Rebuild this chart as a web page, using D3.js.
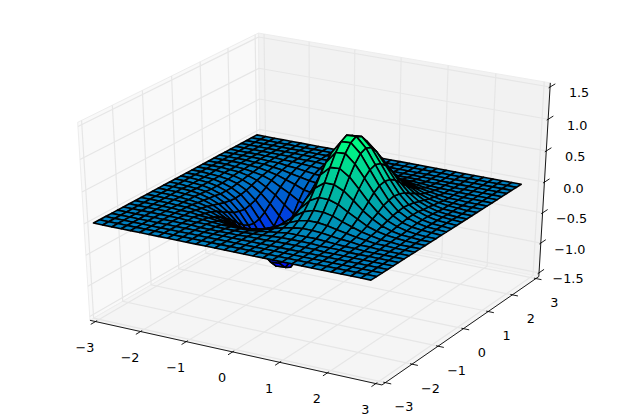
<!DOCTYPE html>
<html>
<head>
<meta charset="utf-8">
<script src="https://cdn.jsdelivr.net/npm/d3@7"></script>
<style>html,body{margin:0;padding:0;background:#fff}svg{display:block}text{font-family:"DejaVu Sans",sans-serif;font-size:12.8px;fill:#000}</style>
</head>
<body>
<svg id="c" width="619" height="419"></svg>
<script>
const xValues = [-3,-2.8,-2.6,-2.4,-2.2,-2,-1.8,-1.6,-1.4,-1.2,-1,-0.8,-0.6,-0.4,-0.2,0,0.2,0.4,0.6,0.8,1,1.2,1.4,1.6,1.8,2,2.2,2.4,2.6,2.8];
const yValues = xValues.slice();
const xTicks = [-3,-2,-1,0,1,2,3];
const yTicks = [-3,-2,-1,0,1,2,3];
const zTicks = [-1.5,-1,-0.5,0,0.5,1,1.5];
// one row per y value, one column per x value
const zRows = [
[0,0,0,0,0,0,0,0,0,0,0,0,0,0,0,0,0,0,0,0,0,0,0,0,0,0,0,0,0,0],
[0,0,0,0,0,0,0,0,0,0,0,0,0,0,0,0,0,0,0,0,0,0,0,0,0,0,0,0,0,0],
[0,0,0,0,0,0,0,0,0,0,0,0,0,0,0,0,0,0,0,0,0,0,0,0,0,0,0,0,0,0],
[0,0,0,0,0,0,0,0,0,0,0,0,0,0,0,0,0,0,0,0,0,0,0,0,0,0,0,0,0,0],
[0,0,0,0,0,0,0,0,0,-0.01,-0.01,-0.01,-0.01,-0.01,0,0,0,0.01,0.01,0.01,0.01,0.01,0,0,0,0,0,0,0,0],
[0,0,0,0,0,0,0,-0.01,-0.01,-0.01,-0.02,-0.02,-0.02,-0.02,-0.01,0,0.01,0.02,0.02,0.02,0.02,0.01,0.01,0.01,0,0,0,0,0,0],
[0,0,0,0,0,0,-0.01,-0.01,-0.02,-0.03,-0.04,-0.04,-0.04,-0.04,-0.02,0,0.02,0.04,0.04,0.04,0.04,0.03,0.02,0.01,0.01,0,0,0,0,0],
[0,0,0,0,0,-0.01,-0.01,-0.03,-0.04,-0.06,-0.08,-0.09,-0.09,-0.07,-0.04,0,0.04,0.07,0.09,0.09,0.08,0.06,0.04,0.03,0.01,0.01,0,0,0,0],
[0,0,0,0,-0.01,-0.01,-0.03,-0.05,-0.08,-0.11,-0.14,-0.16,-0.16,-0.13,-0.07,0,0.07,0.13,0.16,0.16,0.14,0.11,0.08,0.05,0.03,0.01,0.01,0,0,0],
[0,0,0,0,-0.01,-0.02,-0.05,-0.08,-0.13,-0.18,-0.24,-0.27,-0.27,-0.22,-0.12,0,0.12,0.22,0.27,0.27,0.24,0.18,0.13,0.08,0.05,0.02,0.01,0,0,0],
[0,0,0,-0.01,-0.02,-0.04,-0.07,-0.12,-0.20,-0.28,-0.37,-0.42,-0.42,-0.34,-0.19,0,0.19,0.34,0.42,0.42,0.37,0.28,0.20,0.12,0.07,0.04,0.02,0.01,0,0],
[0,0,0,-0.01,-0.02,-0.05,-0.10,-0.18,-0.28,-0.41,-0.53,-0.60,-0.60,-0.49,-0.28,0,0.28,0.49,0.60,0.60,0.53,0.41,0.28,0.18,0.10,0.05,0.02,0.01,0,0],
[0,0,0,-0.01,-0.03,-0.07,-0.13,-0.23,-0.37,-0.54,-0.70,-0.80,-0.79,-0.65,-0.36,0,0.36,0.65,0.79,0.80,0.70,0.54,0.37,0.23,0.13,0.07,0.03,0.01,0,0],
[0,0,-0.01,-0.02,-0.04,-0.08,-0.16,-0.29,-0.46,-0.66,-0.85,-0.98,-0.97,-0.79,-0.45,0,0.45,0.79,0.97,0.98,0.85,0.66,0.46,0.29,0.16,0.08,0.04,0.02,0.01,0],
[0,0,-0.01,-0.02,-0.05,-0.10,-0.18,-0.32,-0.52,-0.74,-0.96,-1.10,-1.09,-0.89,-0.50,0,0.50,0.89,1.09,1.10,0.96,0.74,0.52,0.32,0.18,0.10,0.05,0.02,0.01,0],
[0,0,-0.01,-0.02,-0.05,-0.10,-0.19,-0.34,-0.54,-0.77,-1.00,-1.15,-1.14,-0.93,-0.52,0,0.52,0.93,1.14,1.15,1.00,0.77,0.54,0.34,0.19,0.10,0.05,0.02,0.01,0],
[0,0,-0.01,-0.02,-0.05,-0.10,-0.18,-0.32,-0.52,-0.74,-0.96,-1.10,-1.09,-0.89,-0.50,0,0.50,0.89,1.09,1.10,0.96,0.74,0.52,0.32,0.18,0.10,0.05,0.02,0.01,0],
[0,0,-0.01,-0.02,-0.04,-0.08,-0.16,-0.29,-0.46,-0.66,-0.85,-0.98,-0.97,-0.79,-0.45,0,0.45,0.79,0.97,0.98,0.85,0.66,0.46,0.29,0.16,0.08,0.04,0.02,0.01,0],
[0,0,0,-0.01,-0.03,-0.07,-0.13,-0.23,-0.37,-0.54,-0.70,-0.80,-0.79,-0.65,-0.36,0,0.36,0.65,0.79,0.80,0.70,0.54,0.37,0.23,0.13,0.07,0.03,0.01,0,0],
[0,0,0,-0.01,-0.02,-0.05,-0.10,-0.18,-0.28,-0.41,-0.53,-0.60,-0.60,-0.49,-0.28,0,0.28,0.49,0.60,0.60,0.53,0.41,0.28,0.18,0.10,0.05,0.02,0.01,0,0],
[0,0,0,-0.01,-0.02,-0.04,-0.07,-0.12,-0.20,-0.28,-0.37,-0.42,-0.42,-0.34,-0.19,0,0.19,0.34,0.42,0.42,0.37,0.28,0.20,0.12,0.07,0.04,0.02,0.01,0,0],
[0,0,0,0,-0.01,-0.02,-0.05,-0.08,-0.13,-0.18,-0.24,-0.27,-0.27,-0.22,-0.12,0,0.12,0.22,0.27,0.27,0.24,0.18,0.13,0.08,0.05,0.02,0.01,0,0,0],
[0,0,0,0,-0.01,-0.01,-0.03,-0.05,-0.08,-0.11,-0.14,-0.16,-0.16,-0.13,-0.07,0,0.07,0.13,0.16,0.16,0.14,0.11,0.08,0.05,0.03,0.01,0.01,0,0,0],
[0,0,0,0,0,-0.01,-0.01,-0.03,-0.04,-0.06,-0.08,-0.09,-0.09,-0.07,-0.04,0,0.04,0.07,0.09,0.09,0.08,0.06,0.04,0.03,0.01,0.01,0,0,0,0],
[0,0,0,0,0,0,-0.01,-0.01,-0.02,-0.03,-0.04,-0.04,-0.04,-0.04,-0.02,0,0.02,0.04,0.04,0.04,0.04,0.03,0.02,0.01,0.01,0,0,0,0,0],
[0,0,0,0,0,0,0,-0.01,-0.01,-0.01,-0.02,-0.02,-0.02,-0.02,-0.01,0,0.01,0.02,0.02,0.02,0.02,0.01,0.01,0.01,0,0,0,0,0,0],
[0,0,0,0,0,0,0,0,0,-0.01,-0.01,-0.01,-0.01,-0.01,0,0,0,0.01,0.01,0.01,0.01,0.01,0,0,0,0,0,0,0,0],
[0,0,0,0,0,0,0,0,0,0,0,0,0,0,0,0,0,0,0,0,0,0,0,0,0,0,0,0,0,0],
[0,0,0,0,0,0,0,0,0,0,0,0,0,0,0,0,0,0,0,0,0,0,0,0,0,0,0,0,0,0],
[0,0,0,0,0,0,0,0,0,0,0,0,0,0,0,0,0,0,0,0,0,0,0,0,0,0,0,0,0,0]
];

const svg = d3.select("#c");
// data -> unit cube
const wx = d3.scaleLinear().domain([-3,3]).range([0,1]);
const wy = d3.scaleLinear().domain([-3,3]).range([0,1]);
const wz = d3.scaleLinear().domain([-1.5,1.5]).range([0.005,0.995]);
// projected plane -> pixels
const sx = d3.scaleLinear().domain([0,0.1]).range([318,318+323.5]);
const sy = d3.scaleLinear().domain([0,0.1]).range([202.7,202.7-219]);
const U=[0.8660254,0.5,0], V=[-0.25,0.4330127,0.8660254], N=[0.4330127,-0.75,0.5];
const dot=(a,b)=>a[0]*b[0]+a[1]*b[1]+a[2]*b[2];
function proj(p){ // p in unit cube
  const q=[p[0]-0.5,p[1]-0.5,p[2]-0.5];
  const d=10-dot(N,q);
  return {x:sx(dot(U,q)/d),y:sy(dot(V,q)/d),d};
}
const line=d3.line().x(d=>proj(d).x).y(d=>proj(d).y);
const closed=d3.line().x(d=>proj(d).x).y(d=>proj(d).y).curve(d3.curveLinearClosed);
const m=1/48, lo=-m, hi=1+m, zlo=wz(-1.5)-m, zhi=wz(1.5)+m;

// panes
const panes=[
 {c:"#f9f9f9",p:[[lo,lo,zlo],[lo,hi,zlo],[lo,hi,zhi],[lo,lo,zhi]]},
 {c:"#f2f2f2",p:[[lo,hi,zlo],[hi,hi,zlo],[hi,hi,zhi],[lo,hi,zhi]]},
 {c:"#f5f5f5",p:[[lo,lo,zlo],[hi,lo,zlo],[hi,hi,zlo],[lo,hi,zlo]]}
];
svg.append("g").selectAll("path").data(panes).join("path")
  .attr("d",d=>closed(d.p)).attr("fill",d=>d.c).attr("stroke","#ededed").attr("stroke-width",1);

// grid
const grid=[];
xTicks.forEach(t=>{const a=wx(t);grid.push([[a,lo,zlo],[a,hi,zlo],[a,hi,zhi]]);});
yTicks.forEach(t=>{const a=wy(t);grid.push([[hi,a,zlo],[lo,a,zlo],[lo,a,zhi]]);});
zTicks.forEach(t=>{const a=wz(t);grid.push([[hi,hi,a],[lo,hi,a],[lo,lo,a]]);});
svg.append("g").selectAll("path").data(grid).join("path")
  .attr("d",line).attr("fill","none").attr("stroke","#e6e6e6").attr("stroke-width",1.2);

// axis lines
const axes=[[[lo,lo,zlo],[hi,lo,zlo]],[[hi,lo,zlo],[hi,hi,zlo]],[[hi,hi,zlo],[hi,hi,zhi]]];
svg.append("g").selectAll("path").data(axes).join("path")
  .attr("d",line).attr("fill","none").attr("stroke","#000").attr("stroke-width",0.9);

// ticks
const ticks=[];
xTicks.forEach(t=>{const a=wx(t);ticks.push([[a,lo-0.027,zlo],[a,lo+0.009,zlo]]);});
yTicks.forEach(t=>{const a=wy(t);ticks.push([[hi+0.02,a,zlo],[hi-0.007,a,zlo]]);});
zTicks.forEach(t=>{const a=wz(t);ticks.push([[hi,hi+0.036,a],[hi,hi-0.01,a]]);});
svg.append("g").selectAll("path").data(ticks).join("path")
  .attr("d",line).attr("fill","none").attr("stroke","#000").attr("stroke-width",0.9);

// surface
const cells=[];
for(let j=0;j<yValues.length-1;j++)for(let i=0;i<xValues.length-1;i++){
  const c=[[i,j],[i+1,j],[i+1,j+1],[i,j+1]];
  const pts=c.map(([a,b])=>[wx(xValues[a]),wy(yValues[b]),wz(zRows[b][a])]);
  cells.push({pts,mean:d3.mean(c,([a,b])=>zRows[b][a]),depth:d3.mean(pts,p=>proj(p).d)});
}
const color=d3.scaleLinear().domain(d3.extent(cells,d=>d.mean)).range(["#0000ff","#00ff80"]);
cells.sort((a,b)=>d3.descending(a.depth,b.depth));
svg.append("g").selectAll("path").data(cells).join("path")
  .attr("d",d=>closed(d.pts)).attr("fill",d=>color(d.mean))
  .attr("stroke","#000").attr("stroke-width",1.6).attr("stroke-linejoin","round");

// labels
const fmtInt=d=>String(d).replace("-","\u2212");
const fmtZ=d=>d3.format(".1f")(d).replace("-","\u2212");
function label(list,base,dx,dy,fmt){
  svg.append("g").selectAll("text").data(list).join("text")
    .attr("x",d=>proj(base(d)).x+dx).attr("y",d=>proj(base(d)).y+dy)
    .attr("text-anchor","middle").attr("dominant-baseline","central").text(fmt);
}
label(xTicks,t=>[wx(t),lo,zlo],-10.5,26,fmtInt);
label(yTicks,t=>[hi,wy(t),zlo],18.5,24,fmtInt);
label(zTicks,t=>[hi,hi,wz(t)],29,6,fmtZ);
</script>
</body>
</html>
